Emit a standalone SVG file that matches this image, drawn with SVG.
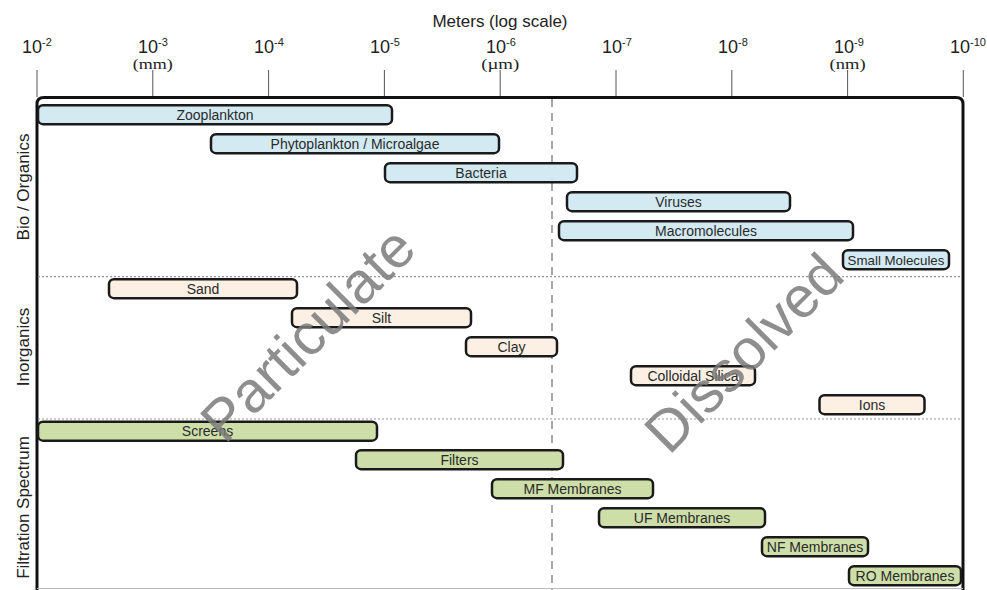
<svg xmlns="http://www.w3.org/2000/svg" width="987" height="590" viewBox="0 0 987 590">
<style>
  .axis { font-family: "Liberation Sans", Arial, sans-serif; font-size: 17px; fill: #222; }
  .tl { font-family: "Liberation Sans", Arial, sans-serif; font-size: 18px; fill: #222; }
  .sup { font-family: "Liberation Sans", Arial, sans-serif; font-size: 11px; fill: #222; }
  .unit { font-family: "Liberation Serif", "Times New Roman", serif; font-size: 15px; fill: #222; text-anchor: middle; }
  .side { font-family: "Liberation Sans", Arial, sans-serif; font-size: 17px; fill: #222; text-anchor: middle; }
  .tick { stroke: #555; stroke-width: 1; }
  .bar { stroke: #1a1a1a; stroke-width: 2.5; }
  .bio { fill: #d4eaf3; }
  .inorg { fill: #fcefe3; }
  .filt { fill: #cedea9; }
  .lbl { font-family: "Liberation Sans", Arial, sans-serif; font-size: 14px; fill: #2a2a2a; text-anchor: middle; }
  .sep { stroke: #999; stroke-width: 1.2; stroke-dasharray: 2 2; }
  .mark { font-family: "Liberation Sans", Arial, sans-serif; font-size: 58px; fill: #7a7a7a; fill-opacity: 0.85; text-anchor: middle; }
</style>
<rect width="987" height="590" fill="#fff"/>

<g id="axis">
  <text class="axis" x="500" y="27" text-anchor="middle">Meters (log scale)</text>
  <line class="tick" x1="37" y1="70" x2="37" y2="97"/>
  <line class="tick" x1="152.8" y1="70" x2="152.8" y2="97"/>
  <line class="tick" x1="268.6" y1="70" x2="268.6" y2="97"/>
  <line class="tick" x1="384.4" y1="70" x2="384.4" y2="97"/>
  <line class="tick" x1="500.2" y1="70" x2="500.2" y2="97"/>
  <line class="tick" x1="616" y1="70" x2="616" y2="97"/>
  <line class="tick" x1="731.8" y1="70" x2="731.8" y2="97"/>
  <line class="tick" x1="847.6" y1="70" x2="847.6" y2="97"/>
  <line class="tick" x1="963.3" y1="70" x2="963.3" y2="97"/>
  <text class="tl" x="22" y="53">10<tspan class="sup" dy="-7">-2</tspan></text>
  <text class="tl" x="138" y="53">10<tspan class="sup" dy="-7">-3</tspan></text>
  <text class="tl" x="254" y="53">10<tspan class="sup" dy="-7">-4</tspan></text>
  <text class="tl" x="370" y="53">10<tspan class="sup" dy="-7">-5</tspan></text>
  <text class="tl" x="486" y="53">10<tspan class="sup" dy="-7">-6</tspan></text>
  <text class="tl" x="602" y="53">10<tspan class="sup" dy="-7">-7</tspan></text>
  <text class="tl" x="718" y="53">10<tspan class="sup" dy="-7">-8</tspan></text>
  <text class="tl" x="834" y="53">10<tspan class="sup" dy="-7">-9</tspan></text>
  <text class="tl" x="950" y="53">10<tspan class="sup" dy="-7">-10</tspan></text>
  <text class="unit" x="152.8" y="69" textLength="40" lengthAdjust="spacingAndGlyphs">(mm)</text>
  <text class="unit" x="500.2" y="69" textLength="38" lengthAdjust="spacingAndGlyphs">(µm)</text>
  <text class="unit" x="847.6" y="69" textLength="36" lengthAdjust="spacingAndGlyphs">(nm)</text>
</g>

<g id="side-labels">
  <text class="side" transform="translate(29,187) rotate(-90)">Bio / Organics</text>
  <text class="side" transform="translate(29,347) rotate(-90)">Inorganics</text>
  <text class="side" transform="translate(29,507.5) rotate(-90)">Filtration Spectrum</text>
</g>

<g id="frame">
  <path d="M37,590 L37,104 Q37,97.5 44,97.5 L956,97.5 Q963,97.5 963,104 L963,590" fill="none" stroke="#111" stroke-width="3"/>
  <line x1="37" y1="588.5" x2="963" y2="588.5" stroke="#bbb" stroke-width="1"/>
</g>

<g id="connectors">
  <line x1="552" y1="99" x2="552" y2="590" stroke="#8a8a8a" stroke-width="1.5" stroke-dasharray="8 6"/>
  <line class="sep" x1="38" y1="276.7" x2="962" y2="276.7"/>
  <line class="sep" x1="38" y1="419" x2="962" y2="419"/>
</g>

<g id="zooplankton"><rect class="bar bio" x="38" y="105.2" width="354" height="19" rx="5"/><text class="lbl" x="215" y="119.5">Zooplankton</text></g>
<g id="phytoplankton"><rect class="bar bio" x="211" y="134.2" width="288" height="19" rx="5"/><text class="lbl" x="355" y="148.5">Phytoplankton / Microalgae</text></g>
<g id="bacteria"><rect class="bar bio" x="385" y="163.2" width="192" height="19" rx="5"/><text class="lbl" x="481" y="177.5">Bacteria</text></g>
<g id="viruses"><rect class="bar bio" x="567" y="192.2" width="223" height="19" rx="5"/><text class="lbl" x="678.5" y="206.5">Viruses</text></g>
<g id="macromolecules"><rect class="bar bio" x="559" y="221.2" width="294" height="19" rx="5"/><text class="lbl" x="706" y="235.5">Macromolecules</text></g>
<g id="small-molecules"><rect class="bar bio" x="843" y="250.2" width="106" height="19" rx="5"/><text class="lbl" x="896" y="264.5" style="font-size:13.3px">Small Molecules</text></g>

<g id="sand"><rect class="bar inorg" x="109" y="279.2" width="188" height="19" rx="5"/><text class="lbl" x="203" y="293.5">Sand</text></g>
<g id="silt"><rect class="bar inorg" x="292" y="308.2" width="179" height="19" rx="5"/><text class="lbl" x="381.5" y="322.5">Silt</text></g>
<g id="clay"><rect class="bar inorg" x="466" y="337.2" width="91" height="19" rx="5"/><text class="lbl" x="511.5" y="351.5">Clay</text></g>
<g id="colloidal-silica"><rect class="bar inorg" x="631" y="366.2" width="124" height="19" rx="5"/><text class="lbl" x="693" y="380.5">Colloidal Silica</text></g>
<g id="ions"><rect class="bar inorg" x="819.5" y="395.2" width="105" height="19" rx="5"/><text class="lbl" x="872" y="409.5">Ions</text></g>

<g id="screens"><rect class="bar filt" x="38" y="421.7" width="339" height="19" rx="5"/><text class="lbl" x="207.5" y="436">Screens</text></g>
<g id="filters"><rect class="bar filt" x="356" y="450.2" width="207" height="19" rx="5"/><text class="lbl" x="459.5" y="464.5">Filters</text></g>
<g id="mf-membranes"><rect class="bar filt" x="492" y="479.2" width="161" height="19" rx="5"/><text class="lbl" x="572.5" y="493.5">MF Membranes</text></g>
<g id="uf-membranes"><rect class="bar filt" x="599" y="508.2" width="166" height="19" rx="5"/><text class="lbl" x="682" y="522.5">UF Membranes</text></g>
<g id="nf-membranes"><rect class="bar filt" x="762" y="537.2" width="106" height="19" rx="5"/><text class="lbl" x="815" y="551.5">NF Membranes</text></g>
<g id="ro-membranes"><rect class="bar filt" x="849" y="566.2" width="112" height="19" rx="5"/><text class="lbl" x="905" y="580.5">RO Membranes</text></g>

<g id="watermarks">
  <text class="mark" transform="translate(322,348) rotate(-45)">Particulate</text>
  <text class="mark" transform="translate(758,367) rotate(-45)">Dissolved</text>
</g>
</svg>
